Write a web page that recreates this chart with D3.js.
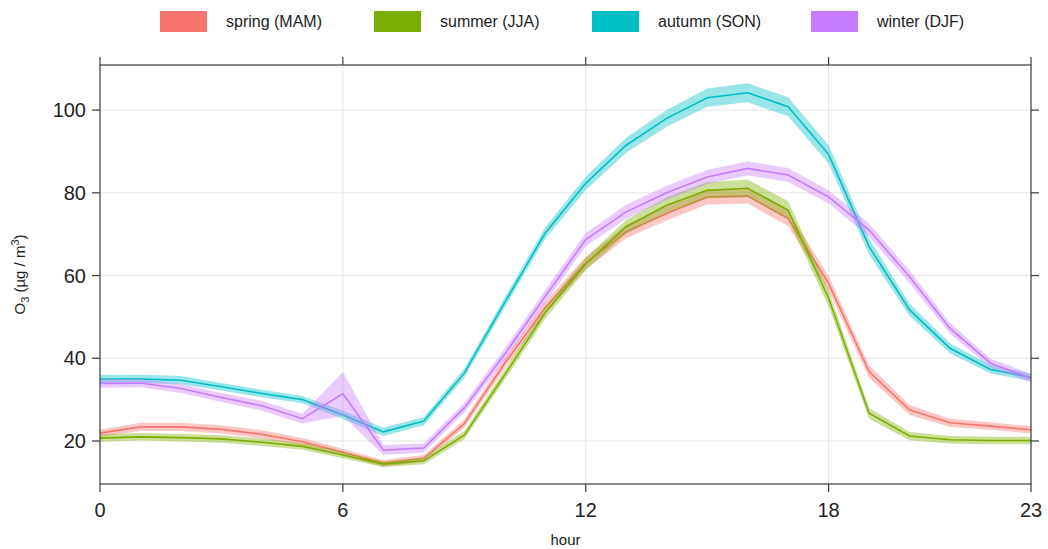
<!DOCTYPE html>
<html>
<head>
<meta charset="utf-8">
<script src="https://cdn.jsdelivr.net/npm/d3@7"></script>
<style>
    body { margin: 0; background: #fff; }
    #chart-container { width: 1048px; height: 549px; }
    text { font-family: "Liberation Sans", Arial, sans-serif; fill: #222; }
    .grid line { stroke: #e6e6e6; stroke-width: 1; }
    .frame { fill: none; stroke: #3a3a3a; stroke-width: 1.2; }
    .tick-mark { stroke: #3a3a3a; stroke-width: 1.2; }
</style>
</head>
<body>
<div id="chart-container"></div>
<script>
(function(){

//data
var hours = d3.range(0, 24);
var seasons = ["spring (MAM)", "summer (JJA)", "autumn (SON)", "winter (DJF)"];
var colors = ["#F8766D", "#7CAE00", "#00BFC4", "#C77CFF"];

var spring = [21.9, 23.4, 23.4, 22.8, 21.6, 19.8, 17.3, 14.6, 15.8, 24.2, 38.8, 52.3,
              63.0, 70.6, 75.0, 79.0, 79.2, 73.8, 58.1, 36.8, 27.5, 24.4, 23.6, 22.7];
var summer = [20.7, 21.0, 20.8, 20.5, 19.7, 18.7, 16.6, 14.4, 15.2, 21.4, 36.0, 51.0,
              62.8, 71.8, 77.0, 80.6, 81.1, 75.8, 54.5, 26.7, 21.2, 20.3, 20.1, 20.1];
var autumn = [35.0, 35.0, 34.7, 33.1, 31.5, 30.0, 26.3, 22.2, 24.8, 36.4, 53.5, 70.3,
              82.3, 91.5, 98.0, 103.0, 104.2, 100.8, 89.3, 67.0, 51.7, 42.4, 37.3, 35.4];
var winter = [33.9, 34.0, 32.7, 30.5, 28.5, 25.4, 31.4, 17.8, 18.3, 28.0, 41.0, 55.0,
              68.7, 75.4, 80.0, 83.8, 85.9, 84.3, 79.0, 71.0, 59.7, 47.2, 38.8, 35.2];

//half width of the shaded interval
var springCi = [0.9, 1.0, 1.0, 1.0, 1.0, 0.9, 0.8, 0.8, 0.8, 1.0, 1.2, 1.4,
                1.5, 1.6, 1.7, 1.8, 1.8, 1.8, 1.8, 1.5, 1.2, 1.0, 0.9, 0.9];
var summerCi = [0.9, 0.9, 0.9, 0.9, 0.9, 0.8, 0.8, 0.7, 0.8, 1.0, 1.2, 1.4,
                1.5, 1.7, 1.9, 2.0, 2.1, 2.2, 1.9, 1.3, 1.0, 0.9, 0.9, 0.9];
var autumnCi = [1.0, 1.0, 1.0, 0.9, 0.9, 0.9, 1.0, 1.0, 1.0, 1.1, 1.2, 1.4,
                1.6, 1.8, 2.0, 2.2, 2.3, 2.3, 2.2, 1.9, 1.5, 1.2, 1.0, 0.9];
var winterCi = [1.0, 1.0, 1.1, 1.1, 1.2, 1.2, 5.3, 1.2, 1.1, 1.2, 1.4, 1.5,
                1.6, 1.7, 1.7, 1.7, 1.7, 1.7, 1.6, 1.6, 1.5, 1.3, 1.1, 1.0];

var xTicks = [0, 6, 12, 18, 23];
var yTicks = [20, 40, 60, 80, 100];

window.onload = setChart;

function setChart(){

    var width = 1048, height = 549;
    var margin = {top: 65, right: 17, bottom: 65, left: 100};

    var svg = d3.select("#chart-container")
        .append("svg")
        .attr("width", width)
        .attr("height", height);

    var x = d3.scaleLinear()
        .domain([0, 23])
        .range([margin.left, width - margin.right]);

    var y = d3.scaleLinear()
        .domain([9.6, 110.9])
        .range([height - margin.bottom, margin.top]);

    var series = [
        {name: seasons[0], color: colors[0], mean: spring, ci: springCi},
        {name: seasons[1], color: colors[1], mean: summer, ci: summerCi},
        {name: seasons[2], color: colors[2], mean: autumn, ci: autumnCi},
        {name: seasons[3], color: colors[3], mean: winter, ci: winterCi}
    ];

    setGrid(svg, x, y);
    setSeries(svg, x, y, series);
    setAxes(svg, x, y);
    setLegend(svg, series);
};

//GRID FUNCTION
function setGrid(svg, x, y){

    var grid = svg.append("g").attr("class", "grid");

    grid.selectAll(".hline")
        .data(yTicks)
        .enter()
        .append("line")
        .attr("x1", x.range()[0])
        .attr("x2", x.range()[1])
        .attr("y1", function(d){ return y(d); })
        .attr("y2", function(d){ return y(d); });

    grid.selectAll(".vline")
        .data([6, 12, 18])
        .enter()
        .append("line")
        .attr("x1", function(d){ return x(d); })
        .attr("x2", function(d){ return x(d); })
        .attr("y1", y.range()[0])
        .attr("y2", y.range()[1]);
};

//BANDS AND LINES
function setSeries(svg, x, y, series){

    var area = d3.area()
        .x(function(d, i){ return x(hours[i]); })
        .y0(function(d){ return y(d[0] - d[1]); })
        .y1(function(d){ return y(d[0] + d[1]); });

    var line = d3.line()
        .x(function(d, i){ return x(hours[i]); })
        .y(function(d){ return y(d); });

    series.forEach(function(s){
        var pairs = s.mean.map(function(m, i){ return [m, s.ci[i]]; });

        svg.append("path")
            .datum(pairs)
            .attr("fill", s.color)
            .attr("fill-opacity", 0.4)
            .attr("d", area);

        svg.append("path")
            .datum(s.mean)
            .attr("fill", "none")
            .attr("stroke", s.color)
            .attr("stroke-width", 1.6)
            .attr("d", line);
    });
};

//AXES
function setAxes(svg, x, y){

    var x0 = x.range()[0], x1 = x.range()[1];
    var y0 = y.range()[0], y1 = y.range()[1];
    var tk = 8;

    svg.append("rect")
        .attr("class", "frame")
        .attr("x", x0)
        .attr("y", y1)
        .attr("width", x1 - x0)
        .attr("height", y0 - y1);

    //bottom and top ticks
    xTicks.forEach(function(t){
        svg.append("line").attr("class", "tick-mark")
            .attr("x1", x(t)).attr("x2", x(t))
            .attr("y1", y0).attr("y2", y0 + tk);
        svg.append("line").attr("class", "tick-mark")
            .attr("x1", x(t)).attr("x2", x(t))
            .attr("y1", y1).attr("y2", y1 - tk);
        svg.append("text")
            .attr("x", x(t))
            .attr("y", y0 + 33)
            .attr("text-anchor", "middle")
            .style("font-size", "20px")
            .text(t);
    });

    //left and right ticks
    yTicks.forEach(function(t){
        svg.append("line").attr("class", "tick-mark")
            .attr("x1", x0 - tk).attr("x2", x0)
            .attr("y1", y(t)).attr("y2", y(t));
        svg.append("line").attr("class", "tick-mark")
            .attr("x1", x1).attr("x2", x1 + tk)
            .attr("y1", y(t)).attr("y2", y(t));
        svg.append("text")
            .attr("x", x0 - 14)
            .attr("y", y(t) + 7)
            .attr("text-anchor", "end")
            .style("font-size", "20px")
            .text(t);
    });

    //axis titles
    svg.append("text")
        .attr("x", (x0 + x1) / 2)
        .attr("y", 545)
        .attr("text-anchor", "middle")
        .style("font-size", "15px")
        .text("hour");

    var yl = svg.append("text")
        .attr("transform", "translate(25," + ((y0 + y1) / 2) + ") rotate(-90)")
        .attr("text-anchor", "middle")
        .style("font-size", "15px");
    yl.append("tspan").text("O");
    yl.append("tspan").attr("dy", 4).style("font-size", "11px").text("3");
    yl.append("tspan").attr("dy", -4).text(" (µg / m");
    yl.append("tspan").attr("dy", -6).style("font-size", "11px").text("3");
    yl.append("tspan").attr("dy", 6).text(")");
};

//LEGEND
function setLegend(svg, series){

    var keyX = [160, 374, 592, 811];

    var keys = svg.selectAll(".key")
        .data(series)
        .enter()
        .append("g")
        .attr("class", "key")
        .attr("transform", function(d, i){ return "translate(" + keyX[i] + ",11)"; });

    keys.append("rect")
        .attr("width", 47)
        .attr("height", 21)
        .attr("fill", function(d){ return d.color; });

    keys.append("text")
        .attr("x", 66)
        .attr("y", 16)
        .style("font-size", "16px")
        .text(function(d){ return d.name; });
};

})();
</script>
</body>
</html>
